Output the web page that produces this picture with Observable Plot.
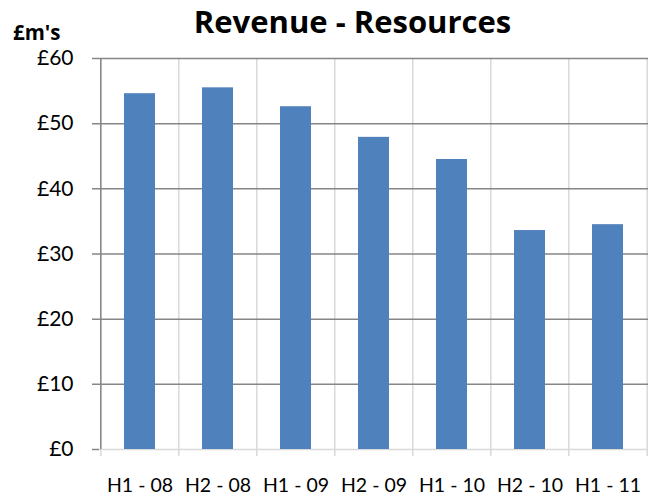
<!DOCTYPE html>
<html>
<head>
<meta charset="utf-8">
<script src="https://cdn.jsdelivr.net/npm/d3@7"></script>
<script src="https://cdn.jsdelivr.net/npm/@observablehq/plot@0.6"></script>
<style>
  html, body { margin: 0; padding: 0; background: #fff; }
  #chart svg { display: block; }
</style>
</head>
<body>
<div id="chart"></div>
<script>
const categories = ["H1 - 08", "H2 - 08", "H1 - 09", "H2 - 09", "H1 - 10", "H2 - 10", "H1 - 11"];
const revenue = [54.6, 55.5, 52.6, 47.9, 44.5, 33.6, 34.5];
const yTicks = [0, 10, 20, 30, 40, 50, 60];
const titleText = "Revenue - Resources";
const unitLabel = "£m's";

const data = categories.map((c, i) => ({ period: c, value: revenue[i] }));

const W = 654, H = 498, mL = 99, mR = 6, mT = 58, mB = 49;
const step = (W - mL - mR) / categories.length;
const font = "Lato, Carlito, Calibri, sans-serif";
const boldFont = "'Open Sans', Lato, sans-serif";
const dark = "#868686", light = "#d9d9d9";

const chart = Plot.plot({
  width: W,
  height: H,
  marginLeft: mL,
  marginRight: mR,
  marginTop: mT,
  marginBottom: mB,
  style: { fontFamily: font, color: "#000", background: "#fff" },
  x: { domain: categories, paddingInner: 0.6, paddingOuter: 0.3, axis: null },
  y: { domain: [0, 60], axis: null },
  marks: [
    // vertical light gridlines at category boundaries
    Plot.ruleX(categories, { x: d => d, dx: -step / 2, stroke: light, strokeWidth: 1.5, insetBottom: -7 }),
    Plot.ruleX([categories[categories.length - 1]], { x: d => d, dx: step / 2, stroke: light, strokeWidth: 1.5, insetBottom: -7 }),
    // horizontal dark gridlines with tick stubs
    Plot.ruleY(yTicks.filter(d => d > 0), { y: d => d, stroke: dark, strokeWidth: 1.5, insetLeft: -7 }),
    // baseline
    Plot.ruleY([0], { y: d => d, stroke: light, strokeWidth: 1.5 }),
    Plot.ruleY([0], { y: d => d, stroke: dark, strokeWidth: 1.5, insetLeft: -7, insetRight: W - mL - mR }),
    // left axis line
    Plot.ruleX([categories[0]], { x: d => d, dx: -step / 2, stroke: dark, strokeWidth: 1.5 }),
    // bars
    Plot.barY(data, { x: "period", y: "value", fill: "#4F81BD" }),
    // axes
    Plot.axisY({ ticks: yTicks, tickFormat: d => "£" + d, tickSize: 0, tickPadding: 26, fontSize: 21, label: null }),
    Plot.axisX({ tickSize: 0, tickPadding: 29, fontSize: 19.5, label: null }),
    // title and unit label
    Plot.text([titleText], { text: d => d, frameAnchor: "top", lineAnchor: "middle", dx: -21.5, dy: -35, fontSize: 31, fontWeight: "bold", fontFamily: boldFont }),
    Plot.text([unitLabel], { text: d => d, frameAnchor: "top-left", lineAnchor: "middle", textAnchor: "start", dx: -86.5, dy: -25.5, fontSize: 20.5, fontWeight: "bold", fontFamily: boldFont })
  ]
});

document.getElementById("chart").appendChild(chart);
</script>
</body>
</html>
